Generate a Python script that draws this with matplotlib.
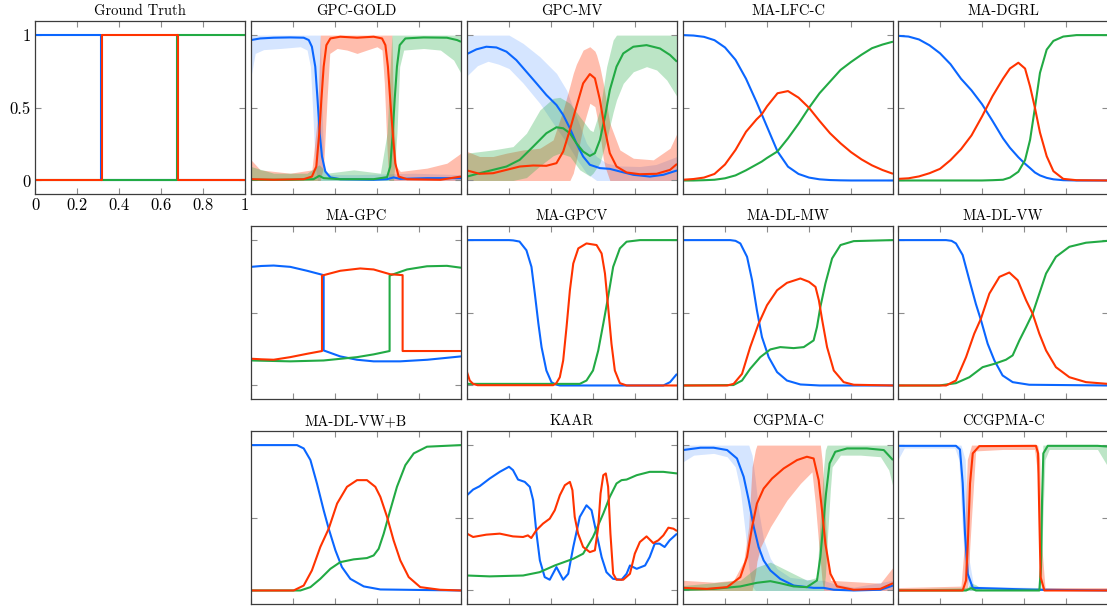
import matplotlib
matplotlib.use("Agg")
import matplotlib.pyplot as plt

plt.rcParams['font.family'] = 'cmr10'
plt.rcParams['mathtext.fontset'] = 'cm'
plt.rcParams['axes.unicode_minus'] = False

BLUE = '#0a66ff'
RED = '#ff3300'
GREEN = '#22aa44'
A_BLUE, A_RED, A_GREEN = 0.17, 0.32, 0.30

titles = ['Ground Truth', 'GPC-GOLD', 'GPC-MV', 'MA-LFC-C', 'MA-DGRL',
          'MA-GPC', 'MA-GPCV', 'MA-DL-MW', 'MA-DL-VW',
          'MA-DL-VW+B', 'KAAR', 'CGPMA-C', 'CCGPMA-C']
x_ticks = [0, 0.2, 0.4, 0.6, 0.8, 1]
x_tick_labels = ['0', '0.2', '0.4', '0.6', '0.8', '1']
y_ticks = [0, 0.5, 1]
y_tick_labels = ['0', '0.5', '1']

# ---------------- Ground Truth ----------------
gt_blue_x = [0, 0.313, 0.313, 1]
gt_blue_y = [1, 1, 0, 0]
gt_red_x = [0, 0.318, 0.318, 0.68, 0.68, 1]
gt_red_y = [0, 0, 1, 1, 0, 0]
gt_green_x = [0, 0.675, 0.675, 1]
gt_green_y = [0, 0, 1, 1]

# ---------------- GPC-GOLD ----------------
gold_blue_x = [0, 0.044, 0.108, 0.187, 0.251, 0.275, 0.29, 0.306, 0.317, 0.327, 0.338, 0.354, 0.378, 0.425, 0.584, 0.648, 0.679, 0.711, 0.838, 1.0]
gold_blue_y = [0.966, 0.977, 0.982, 0.984, 0.982, 0.966, 0.92, 0.783, 0.554, 0.325, 0.165, 0.062, 0.021, 0.009, 0.005, 0.009, 0.021, 0.011, 0.016, 0.016]
gold_blue_bx = [0, 0.02, 0.06, 0.14, 0.235, 0.267, 0.283, 0.295, 0.306, 0.317, 0.33, 0.338, 0.346, 0.362, 0.5, 0.775, 1.0]
gold_blue_lo = [0.714, 0.874, 0.9, 0.908, 0.92, 0.897, 0.783, 0.44, 0.096, 0.0, 0, 0, 0, 0, 0, 0, 0]
gold_blue_hi = [1, 1, 1, 1, 1, 1, 1, 1, 1, 1, 1, 0.55, 0.1, 0.04, 0.04, 0.05, 0.04]
gold_red_x = [0, 0.108, 0.251, 0.29, 0.311, 0.325, 0.335, 0.346, 0.359, 0.378, 0.425, 0.505, 0.584, 0.624, 0.64, 0.652, 0.663, 0.675, 0.687, 0.703, 0.743, 0.902, 1.0]
gold_red_y = [0.009, 0.005, 0.009, 0.027, 0.096, 0.325, 0.554, 0.783, 0.931, 0.977, 0.989, 0.982, 0.989, 0.977, 0.931, 0.783, 0.554, 0.325, 0.119, 0.027, 0.009, 0.005, 0.027]
gold_red_bx = [0, 0.044, 0.187, 0.29, 0.317, 0.33, 0.346, 0.362, 0.375, 0.41, 0.457, 0.505, 0.552, 0.6, 0.624, 0.635, 0.648, 0.656, 0.671, 0.679, 0.692, 0.711, 0.838, 0.933, 1.0]
gold_red_lo = [0, 0, 0, 0, 0, 0, 0.1, 0.554, 0.874, 0.908, 0.897, 0.874, 0.897, 0.92, 0.897, 0.668, 0.21, 0, 0, 0, 0, 0, 0, 0, 0]
gold_red_hi = [0.142, 0.073, 0.05, 0.073, 0.44, 1, 1, 1, 1, 1, 1, 1, 1, 1, 1, 1, 1, 1, 1, 0.44, 0.096, 0.062, 0.085, 0.119, 0.188]
gold_green_x = [0, 0.187, 0.298, 0.325, 0.346, 0.425, 0.584, 0.648, 0.663, 0.675, 0.684, 0.695, 0.708, 0.735, 0.822, 0.933, 0.981, 1.0]
gold_green_y = [0.005, 0.005, 0.009, 0.032, 0.016, 0.009, 0.009, 0.023, 0.096, 0.325, 0.554, 0.783, 0.931, 0.977, 0.984, 0.982, 0.966, 0.954]
gold_green_bx = [0, 0.108, 0.267, 0.325, 0.362, 0.489, 0.616, 0.648, 0.663, 0.671, 0.679, 0.695, 0.708, 0.727, 0.822, 0.902, 0.965, 1.0]
gold_green_lo = [0, 0, 0, 0, 0, 0, 0, 0, 0, 0, 0, 0.325, 0.783, 0.897, 0.908, 0.897, 0.828, 0.737]
gold_green_hi = [0.096, 0.05, 0.05, 0.108, 0.05, 0.073, 0.05, 0.325, 0.783, 1, 1, 1, 1, 1, 1, 1, 1, 1]

# ---------------- GPC-MV ----------------
mv_blue_x = [0, 0.045, 0.092, 0.14, 0.188, 0.235, 0.283, 0.331, 0.378, 0.426, 0.458, 0.49, 0.521, 0.553, 0.585, 0.633, 0.68, 0.728, 0.792, 0.871, 0.935, 1.0]
mv_blue_y = [0.87, 0.902, 0.92, 0.915, 0.886, 0.828, 0.748, 0.668, 0.588, 0.519, 0.451, 0.359, 0.256, 0.165, 0.108, 0.085, 0.08, 0.062, 0.039, 0.027, 0.039, 0.069]
mv_blue_bx = [0, 0.05, 0.1, 0.15, 0.2, 0.267, 0.347, 0.426, 0.474, 0.521, 0.569, 0.617, 0.665, 0.728, 0.823, 0.9, 1.0]
mv_blue_lo = [0.72, 0.79, 0.82, 0.8, 0.77, 0.67, 0.53, 0.36, 0.26, 0.15, 0.05, 0.0, 0, 0, 0, 0, 0]
mv_blue_hi = [1, 1, 1, 1, 1, 0.943, 0.851, 0.737, 0.622, 0.439, 0.256, 0.165, 0.119, 0.1, 0.096, 0.11, 0.165]
mv_red_x = [0, 0.06, 0.124, 0.188, 0.251, 0.315, 0.378, 0.426, 0.458, 0.49, 0.521, 0.553, 0.585, 0.609, 0.633, 0.657, 0.68, 0.712, 0.76, 0.823, 0.903, 0.967, 1.0]
mv_red_y = [0.069, 0.046, 0.05, 0.073, 0.096, 0.103, 0.101, 0.119, 0.199, 0.348, 0.508, 0.668, 0.732, 0.703, 0.554, 0.348, 0.188, 0.096, 0.055, 0.043, 0.046, 0.073, 0.114]
mv_red_bx = [0, 0.06, 0.124, 0.188, 0.267, 0.347, 0.41, 0.458, 0.49, 0.506, 0.521, 0.553, 0.585, 0.609, 0.617, 0.633, 0.649, 0.657, 0.68, 0.728, 0.792, 0.887, 0.967, 1.0]
mv_red_lo = [0, 0, 0, 0, 0, 0, 0, 0, 0, 0.05, 0.142, 0.371, 0.531, 0.508, 0.45, 0.325, 0.15, 0.096, 0, 0, 0, 0, 0, 0]
mv_red_hi = [0.2, 0.165, 0.165, 0.188, 0.21, 0.222, 0.279, 0.485, 0.65, 0.737, 0.8, 0.897, 0.92, 0.89, 0.863, 0.78, 0.668, 0.6, 0.394, 0.21, 0.153, 0.142, 0.222, 0.325]
mv_green_x = [0, 0.06, 0.124, 0.188, 0.251, 0.315, 0.378, 0.426, 0.458, 0.49, 0.521, 0.553, 0.585, 0.609, 0.633, 0.657, 0.68, 0.712, 0.744, 0.792, 0.855, 0.919, 0.967, 1.0]
mv_green_y = [0.027, 0.05, 0.073, 0.096, 0.142, 0.233, 0.325, 0.366, 0.359, 0.325, 0.256, 0.199, 0.169, 0.188, 0.279, 0.439, 0.622, 0.783, 0.874, 0.92, 0.931, 0.908, 0.863, 0.817]
mv_green_bx = [0, 0.124, 0.219, 0.283, 0.347, 0.41, 0.442, 0.49, 0.537, 0.585, 0.6, 0.633, 0.665, 0.696, 0.712, 0.744, 0.792, 0.855, 0.903, 0.951, 1.0]
mv_green_lo = [0, 0, 0, 0.02, 0.1, 0.17, 0.188, 0.165, 0.073, 0.03, 0.05, 0.12, 0.28, 0.47, 0.554, 0.668, 0.748, 0.783, 0.76, 0.691, 0.577]
mv_green_hi = [0.188, 0.21, 0.233, 0.325, 0.485, 0.565, 0.572, 0.531, 0.439, 0.348, 0.336, 0.485, 0.783, 0.966, 1, 1, 1, 1, 1, 1, 1]

# ---------------- MA-LFC-C ----------------
lfc_x = [0, 0.05, 0.1, 0.15, 0.2, 0.25, 0.3, 0.35, 0.375, 0.4, 0.45, 0.5, 0.55, 0.6, 0.65, 0.7, 0.75, 0.8, 0.85, 0.9, 0.95, 1.0]
lfc_blue = [1.0, 0.997, 0.988, 0.965, 0.915, 0.83, 0.7, 0.54, 0.455, 0.37, 0.2, 0.095, 0.045, 0.02, 0.008, 0.003, 0.001, 0, 0, 0, 0, 0]
lfc_red = [0.005, 0.01, 0.02, 0.045, 0.11, 0.21, 0.335, 0.42, 0.455, 0.51, 0.6, 0.615, 0.57, 0.5, 0.41, 0.325, 0.256, 0.195, 0.145, 0.104, 0.072, 0.046]
lfc_green = [0, 0, 0.002, 0.005, 0.015, 0.035, 0.07, 0.11, 0.13, 0.155, 0.2, 0.29, 0.39, 0.5, 0.6, 0.68, 0.76, 0.815, 0.865, 0.91, 0.935, 0.955]

# ---------------- MA-DGRL ----------------
dgrl_x = [0, 0.05, 0.1, 0.15, 0.2, 0.25, 0.3, 0.35, 0.4, 0.45, 0.5, 0.533, 0.573, 0.605, 0.629, 0.652, 0.676, 0.708, 0.74, 0.787, 0.85, 1.0]
dgrl_blue = [0.995, 0.99, 0.97, 0.93, 0.875, 0.8, 0.7, 0.62, 0.525, 0.41, 0.29, 0.225, 0.16, 0.115, 0.085, 0.055, 0.035, 0.018, 0.008, 0.002, 0, 0]
dgrl_red = [0.011, 0.015, 0.028, 0.05, 0.08, 0.14, 0.215, 0.31, 0.44, 0.58, 0.7, 0.77, 0.81, 0.77, 0.646, 0.5, 0.33, 0.167, 0.064, 0.011, 0.002, 0]
dgrl_green = [0, 0, 0, 0, 0, 0, 0, 0, 0, 0.002, 0.005, 0.02, 0.06, 0.14, 0.28, 0.5, 0.74, 0.9, 0.96, 0.99, 1.0, 1.0]

# ---------------- MA-GPC ----------------
magpc_blue_x = [0, 0.05, 0.108, 0.187, 0.267, 0.346, 0.346, 0.425, 0.505, 0.584, 0.71, 0.84, 1.0]
magpc_blue_y = [0.816, 0.822, 0.825, 0.816, 0.789, 0.759, 0.241, 0.2, 0.177, 0.166, 0.166, 0.177, 0.2]
magpc_red_x = [0, 0.05, 0.108, 0.187, 0.267, 0.338, 0.338, 0.425, 0.52, 0.584, 0.663, 0.722, 0.722, 1.0]
magpc_red_y = [0.184, 0.18, 0.177, 0.195, 0.218, 0.237, 0.756, 0.789, 0.805, 0.798, 0.765, 0.759, 0.237, 0.237]
magpc_green_x = [0, 0.187, 0.346, 0.505, 0.584, 0.66, 0.66, 0.743, 0.838, 0.933, 1.0]
magpc_green_y = [0.172, 0.166, 0.172, 0.195, 0.214, 0.237, 0.756, 0.798, 0.82, 0.823, 0.81]

# ---------------- MA-GPCV ----------------
gpcv_blue_x = [0, 0.2, 0.22, 0.25, 0.283, 0.307, 0.323, 0.34, 0.355, 0.378, 0.402, 0.42, 0.442, 0.935, 0.967, 1.0]
gpcv_blue_y = [1.0, 1.0, 0.998, 0.99, 0.93, 0.816, 0.632, 0.425, 0.264, 0.103, 0.023, 0.008, 0.0, 0.0, 0.023, 0.08]
gpcv_red_x = [0, 0.013, 0.029, 0.05, 0.41, 0.425, 0.442, 0.458, 0.474, 0.49, 0.506, 0.53, 0.569, 0.617, 0.641, 0.657, 0.672, 0.688, 0.704, 0.728, 0.76, 1.0]
gpcv_red_y = [0.092, 0.034, 0.011, 0.002, 0.002, 0.015, 0.057, 0.172, 0.402, 0.655, 0.839, 0.943, 0.977, 0.966, 0.908, 0.77, 0.54, 0.287, 0.103, 0.016, 0.0, 0.0]
gpcv_green_x = [0, 0.537, 0.569, 0.6, 0.625, 0.649, 0.672, 0.696, 0.728, 0.76, 0.824, 1.0]
gpcv_green_y = [0.011, 0.011, 0.034, 0.103, 0.241, 0.425, 0.609, 0.816, 0.943, 0.989, 1.0, 1.0]

# ---------------- MA-DL-MW ----------------
mw_blue_x = [0, 0.225, 0.25, 0.273, 0.305, 0.329, 0.352, 0.376, 0.408, 0.448, 0.495, 0.559, 0.65, 1.0]
mw_blue_y = [1.0, 1.0, 0.995, 0.977, 0.885, 0.724, 0.517, 0.333, 0.195, 0.092, 0.034, 0.007, 0.0, 0.0]
mw_red_x = [0, 0.21, 0.241, 0.281, 0.32, 0.36, 0.4, 0.448, 0.495, 0.559, 0.6, 0.631, 0.647, 0.663, 0.686, 0.718, 0.765, 0.813, 1.0]
mw_red_y = [0, 0, 0.011, 0.08, 0.264, 0.425, 0.552, 0.655, 0.706, 0.736, 0.713, 0.678, 0.586, 0.448, 0.264, 0.103, 0.023, 0.005, 0]
mw_green_x = [0, 0.24, 0.281, 0.32, 0.368, 0.416, 0.463, 0.527, 0.575, 0.622, 0.638, 0.654, 0.678, 0.71, 0.75, 0.813, 1.0]
mw_green_y = [0, 0.003, 0.034, 0.115, 0.195, 0.248, 0.264, 0.257, 0.264, 0.31, 0.402, 0.54, 0.701, 0.874, 0.966, 0.993, 1.0]

# ---------------- MA-DL-VW ----------------
vw_blue_x = [0, 0.229, 0.255, 0.276, 0.308, 0.34, 0.371, 0.395, 0.427, 0.459, 0.498, 0.546, 0.625, 1.0]
vw_blue_y = [1, 1, 0.995, 0.977, 0.897, 0.724, 0.56, 0.45, 0.287, 0.172, 0.069, 0.023, 0.005, 0]
vw_red_x = [0, 0.229, 0.276, 0.324, 0.363, 0.395, 0.435, 0.483, 0.53, 0.57, 0.61, 0.641, 0.673, 0.705, 0.752, 0.816, 0.895, 1.0]
vw_red_y = [0, 0, 0.034, 0.195, 0.356, 0.46, 0.632, 0.747, 0.777, 0.724, 0.586, 0.494, 0.356, 0.241, 0.126, 0.057, 0.023, 0.011]
vw_green_x = [0, 0.197, 0.276, 0.34, 0.403, 0.459, 0.514, 0.546, 0.578, 0.61, 0.641, 0.673, 0.705, 0.752, 0.816, 0.895, 1.0]
vw_green_y = [0, 0, 0.016, 0.057, 0.126, 0.149, 0.177, 0.207, 0.31, 0.402, 0.494, 0.632, 0.77, 0.885, 0.954, 0.982, 0.995]

# ---------------- MA-DL-VW+B ----------------
vwb_blue_x = [0, 0.219, 0.251, 0.283, 0.314, 0.346, 0.37, 0.402, 0.433, 0.473, 0.537, 0.616, 1.0]
vwb_blue_y = [1, 1, 0.977, 0.897, 0.736, 0.552, 0.425, 0.276, 0.161, 0.08, 0.028, 0.007, 0]
vwb_red_x = [0, 0.203, 0.251, 0.29, 0.33, 0.37, 0.41, 0.457, 0.505, 0.552, 0.592, 0.616, 0.648, 0.679, 0.711, 0.751, 0.806, 0.9, 1.0]
vwb_red_y = [0, 0, 0.034, 0.138, 0.299, 0.425, 0.598, 0.713, 0.759, 0.759, 0.713, 0.644, 0.506, 0.345, 0.207, 0.092, 0.023, 0.005, 0]
vwb_green_x = [0, 0.235, 0.283, 0.33, 0.378, 0.425, 0.489, 0.552, 0.584, 0.608, 0.632, 0.663, 0.695, 0.735, 0.775, 0.838, 1.0]
vwb_green_y = [0, 0, 0.023, 0.08, 0.149, 0.195, 0.214, 0.223, 0.241, 0.287, 0.391, 0.552, 0.713, 0.862, 0.943, 0.989, 1.0]

# ---------------- KAAR ----------------
kaar_blue_x = [0, 0.029, 0.06, 0.108, 0.156, 0.2, 0.219, 0.243, 0.275, 0.299, 0.315, 0.331, 0.347, 0.37, 0.394, 0.426, 0.458, 0.482, 0.506, 0.537, 0.569, 0.593, 0.617, 0.641, 0.664, 0.696, 0.736, 0.76, 0.776, 0.808, 0.848, 0.87, 0.894, 0.917, 0.941, 0.965, 1.0]
kaar_blue_y = [0.655, 0.694, 0.717, 0.77, 0.816, 0.851, 0.828, 0.763, 0.747, 0.713, 0.621, 0.391, 0.207, 0.092, 0.074, 0.161, 0.074, 0.115, 0.299, 0.506, 0.586, 0.552, 0.391, 0.23, 0.126, 0.08, 0.074, 0.115, 0.172, 0.149, 0.172, 0.23, 0.322, 0.322, 0.299, 0.345, 0.391]
kaar_red_x = [0, 0.029, 0.092, 0.156, 0.219, 0.267, 0.29, 0.306, 0.33, 0.362, 0.394, 0.418, 0.442, 0.466, 0.49, 0.502, 0.513, 0.529, 0.553, 0.585, 0.609, 0.625, 0.636, 0.649, 0.661, 0.672, 0.683, 0.696, 0.712, 0.744, 0.776, 0.799, 0.823, 0.855, 0.887, 0.911, 0.935, 0.959, 0.983, 1.0]
kaar_red_y = [0.391, 0.368, 0.384, 0.391, 0.372, 0.368, 0.379, 0.361, 0.414, 0.46, 0.494, 0.552, 0.655, 0.724, 0.747, 0.69, 0.506, 0.391, 0.299, 0.264, 0.276, 0.437, 0.667, 0.793, 0.805, 0.713, 0.391, 0.115, 0.074, 0.074, 0.115, 0.253, 0.333, 0.372, 0.326, 0.345, 0.379, 0.432, 0.425, 0.409]
kaar_green_x = [0, 0.108, 0.267, 0.346, 0.418, 0.506, 0.553, 0.6, 0.649, 0.68, 0.712, 0.736, 0.76, 0.808, 0.87, 0.935, 1.0]
kaar_green_y = [0.103, 0.097, 0.103, 0.126, 0.172, 0.218, 0.253, 0.368, 0.529, 0.644, 0.736, 0.759, 0.763, 0.793, 0.816, 0.816, 0.805]

# ---------------- CGPMA-C ----------------
cg_blue_x = [0, 0.083, 0.146, 0.21, 0.257, 0.289, 0.313, 0.337, 0.36, 0.384, 0.416, 0.463, 0.527, 0.622, 0.67, 0.718, 0.813, 0.94, 1.0]
cg_blue_y = [0.966, 0.982, 0.982, 0.966, 0.908, 0.782, 0.621, 0.437, 0.299, 0.207, 0.138, 0.08, 0.034, 0.018, 0.018, 0.005, 0.0, 0.005, 0.034]
cg_blue_bx = [0, 0.051, 0.146, 0.21, 0.249, 0.273, 0.297, 0.313, 0.329, 0.345, 0.36, 0.384, 0.416, 0.448, 0.51, 0.622, 0.67, 0.718, 0.813, 1.0]
cg_blue_lo = [0.885, 0.931, 0.943, 0.92, 0.85, 0.69, 0.39, 0.16, 0.03, 0, 0, 0, 0, 0, 0, 0, 0, 0, 0, 0]
cg_blue_hi = [1, 1, 1, 1, 1, 1, 1, 1, 0.93, 0.75, 0.55, 0.35, 0.22, 0.15, 0.09, 0.07, 0.07, 0.046, 0.023, 0.07]
cg_red_x = [0, 0.114, 0.21, 0.273, 0.305, 0.329, 0.352, 0.384, 0.424, 0.479, 0.543, 0.59, 0.622, 0.646, 0.662, 0.678, 0.702, 0.733, 0.813, 0.94, 1.0]
cg_red_y = [0.018, 0.011, 0.023, 0.092, 0.23, 0.437, 0.598, 0.701, 0.77, 0.839, 0.897, 0.92, 0.908, 0.759, 0.552, 0.322, 0.115, 0.028, 0.005, 0.011, 0.05]
cg_red_bx = [0, 0.146, 0.241, 0.289, 0.313, 0.321, 0.329, 0.345, 0.352, 0.37, 0.416, 0.495, 0.559, 0.614, 0.63, 0.646, 0.654, 0.662, 0.67, 0.686, 0.702, 0.94, 1.0]
cg_red_lo = [0, 0, 0, 0, 0, 0, 0, 0.115, 0.2, 0.3, 0.437, 0.621, 0.736, 0.816, 0.6, 0.322, 0.2, 0.07, 0, 0, 0, 0, 0]
cg_red_hi = [0.07, 0.057, 0.07, 0.2, 0.44, 0.65, 0.85, 0.97, 1, 1, 1, 1, 1, 1, 1, 1, 1, 0.9, 0.736, 0.276, 0.07, 0.05, 0.16]
cg_green_x = [0, 0.146, 0.273, 0.352, 0.416, 0.463, 0.527, 0.59, 0.638, 0.654, 0.667, 0.681, 0.698, 0.725, 0.781, 0.876, 0.956, 1.0]
cg_green_y = [0.005, 0.011, 0.028, 0.053, 0.064, 0.05, 0.028, 0.023, 0.069, 0.23, 0.437, 0.667, 0.874, 0.954, 0.977, 0.977, 0.966, 0.897]
cg_green_bx = [0, 0.273, 0.352, 0.416, 0.495, 0.59, 0.638, 0.654, 0.67, 0.678, 0.686, 0.702, 0.71, 0.75, 0.844, 0.94, 0.98, 1.0]
cg_green_lo = [0, 0, 0, 0, 0, 0, 0, 0, 0, 0.1, 0.322, 0.7, 0.85, 0.931, 0.931, 0.92, 0.828, 0.713]
cg_green_hi = [0.034, 0.07, 0.161, 0.195, 0.138, 0.07, 0.09, 0.5, 0.85, 0.966, 1, 1, 1, 1, 1, 1, 1, 1]

# ---------------- CCGPMA-C ----------------
ccg_blue_x = [0, 0.276, 0.295, 0.308, 0.319, 0.332, 0.356, 0.657, 1.0]
ccg_blue_y = [0.995, 0.995, 0.97, 0.74, 0.39, 0.115, 0.018, 0.005, 0.0]
ccg_blue_bx = [0, 0.03, 0.27, 0.29, 0.3, 0.32, 0.34, 0.36, 1.0]
ccg_blue_lo = [0.9, 0.98, 0.98, 0.9, 0.6, 0.1, 0, 0, 0]
ccg_blue_hi = [1, 1, 1, 1, 1, 0.9, 0.2, 0.03, 0.01]
ccg_red_x = [0, 0.308, 0.324, 0.333, 0.343, 0.356, 0.387, 0.657, 0.667, 0.673, 0.679, 0.697, 1.0]
ccg_red_y = [0, 0, 0.069, 0.345, 0.736, 0.943, 0.993, 0.995, 0.943, 0.506, 0.092, 0.0, 0.0]
ccg_red_bx = [0, 0.3, 0.315, 0.33, 0.35, 0.37, 0.5, 0.65, 0.665, 0.675, 0.685, 0.7, 1.0]
ccg_red_lo = [0, 0, 0, 0, 0.5, 0.96, 0.97, 0.97, 0.8, 0.2, 0, 0, 0]
ccg_red_hi = [0.02, 0.03, 0.3, 0.9, 1, 1, 1, 1, 1, 0.9, 0.3, 0.02, 0.02]
ccg_green_x = [0, 0.324, 0.348, 0.371, 0.673, 0.681, 0.686, 0.692, 0.713, 0.95, 1.0]
ccg_green_y = [0, 0, 0.016, 0.0, 0.0, 0.161, 0.621, 0.943, 0.995, 0.995, 0.99]
ccg_green_bx = [0, 0.33, 0.35, 0.37, 0.4, 0.67, 0.68, 0.69, 0.7, 0.72, 0.95, 1.0]
ccg_green_lo = [0, 0, 0, 0, 0, 0, 0, 0.5, 0.9, 0.97, 0.97, 0.85]
ccg_green_hi = [0.01, 0.02, 0.05, 0.04, 0.01, 0.02, 0.5, 1, 1, 1, 1, 1]

# panel specs: (row, col, title, bands, lines)
panels = [
    (0, 0, titles[0], [], [(gt_blue_x, gt_blue_y, BLUE), (gt_green_x, gt_green_y, GREEN), (gt_red_x, gt_red_y, RED)]),
    (0, 1, titles[1],
     [(gold_blue_bx, gold_blue_lo, gold_blue_hi, BLUE, A_BLUE),
      (gold_red_bx, gold_red_lo, gold_red_hi, RED, A_RED),
      (gold_green_bx, gold_green_lo, gold_green_hi, GREEN, A_GREEN)],
     [(gold_blue_x, gold_blue_y, BLUE), (gold_green_x, gold_green_y, GREEN), (gold_red_x, gold_red_y, RED)]),
    (0, 2, titles[2],
     [(mv_blue_bx, mv_blue_lo, mv_blue_hi, BLUE, A_BLUE),
      (mv_red_bx, mv_red_lo, mv_red_hi, RED, A_RED),
      (mv_green_bx, mv_green_lo, mv_green_hi, GREEN, A_GREEN)],
     [(mv_blue_x, mv_blue_y, BLUE), (mv_green_x, mv_green_y, GREEN), (mv_red_x, mv_red_y, RED)]),
    (0, 3, titles[3], [], [(lfc_x, lfc_blue, BLUE), (lfc_x, lfc_green, GREEN), (lfc_x, lfc_red, RED)]),
    (0, 4, titles[4], [], [(dgrl_x, dgrl_blue, BLUE), (dgrl_x, dgrl_green, GREEN), (dgrl_x, dgrl_red, RED)]),
    (1, 1, titles[5], [], [(magpc_blue_x, magpc_blue_y, BLUE), (magpc_green_x, magpc_green_y, GREEN), (magpc_red_x, magpc_red_y, RED)]),
    (1, 2, titles[6], [], [(gpcv_blue_x, gpcv_blue_y, BLUE), (gpcv_green_x, gpcv_green_y, GREEN), (gpcv_red_x, gpcv_red_y, RED)]),
    (1, 3, titles[7], [], [(mw_blue_x, mw_blue_y, BLUE), (mw_green_x, mw_green_y, GREEN), (mw_red_x, mw_red_y, RED)]),
    (1, 4, titles[8], [], [(vw_blue_x, vw_blue_y, BLUE), (vw_green_x, vw_green_y, GREEN), (vw_red_x, vw_red_y, RED)]),
    (2, 1, titles[9], [], [(vwb_blue_x, vwb_blue_y, BLUE), (vwb_green_x, vwb_green_y, GREEN), (vwb_red_x, vwb_red_y, RED)]),
    (2, 2, titles[10], [], [(kaar_blue_x, kaar_blue_y, BLUE), (kaar_green_x, kaar_green_y, GREEN), (kaar_red_x, kaar_red_y, RED)]),
    (2, 3, titles[11],
     [(cg_blue_bx, cg_blue_lo, cg_blue_hi, BLUE, A_BLUE),
      (cg_red_bx, cg_red_lo, cg_red_hi, RED, A_RED),
      (cg_green_bx, cg_green_lo, cg_green_hi, GREEN, A_GREEN)],
     [(cg_blue_x, cg_blue_y, BLUE), (cg_green_x, cg_green_y, GREEN), (cg_red_x, cg_red_y, RED)]),
    (2, 4, titles[12],
     [(ccg_blue_bx, ccg_blue_lo, ccg_blue_hi, BLUE, A_BLUE),
      (ccg_red_bx, ccg_red_lo, ccg_red_hi, RED, A_RED),
      (ccg_green_bx, ccg_green_lo, ccg_green_hi, GREEN, A_GREEN)],
     [(ccg_blue_x, ccg_blue_y, BLUE), (ccg_green_x, ccg_green_y, GREEN), (ccg_red_x, ccg_red_y, RED)]),
]

W, H = 1107, 608
fig = plt.figure(figsize=(W / 100, H / 100), dpi=100)
col_left = [35, 251, 467, 683, 898]
row_top = [21, 226, 431]
aw, ah = 210, 173

for r, c, title, bands, lines in panels:
    l, t = col_left[c], row_top[r]
    ax = fig.add_axes([l / W, 1 - (t + ah) / H, aw / W, ah / H])
    for bx, lo, hi, col, a in bands:
        ax.fill_between(bx, lo, hi, color=col, alpha=a, lw=0)
    for lx, ly, col in lines:
        ax.plot(lx, ly, color=col, lw=1.5, solid_joinstyle='round', solid_capstyle='butt')
    ax.set_xlim(0, 1)
    ax.set_ylim(-0.093, 1.097)
    ax.set_xticks(x_ticks)
    ax.set_yticks(y_ticks)
    ax.tick_params(direction='in', length=4, width=0.8, color='#8c8c8c',
                   top=True, right=True, labelsize=12, pad=3)
    if r == 0 and c == 0:
        ax.set_xticklabels(x_tick_labels)
        ax.set_yticklabels(y_tick_labels)
    else:
        ax.tick_params(labelbottom=False, labelleft=False)
    for s in ax.spines.values():
        s.set_color('#3c3c3c')
        s.set_linewidth(0.9)
    ax.set_title(title, fontsize=10.5, pad=4)

fig.savefig('out.png', dpi=100)
